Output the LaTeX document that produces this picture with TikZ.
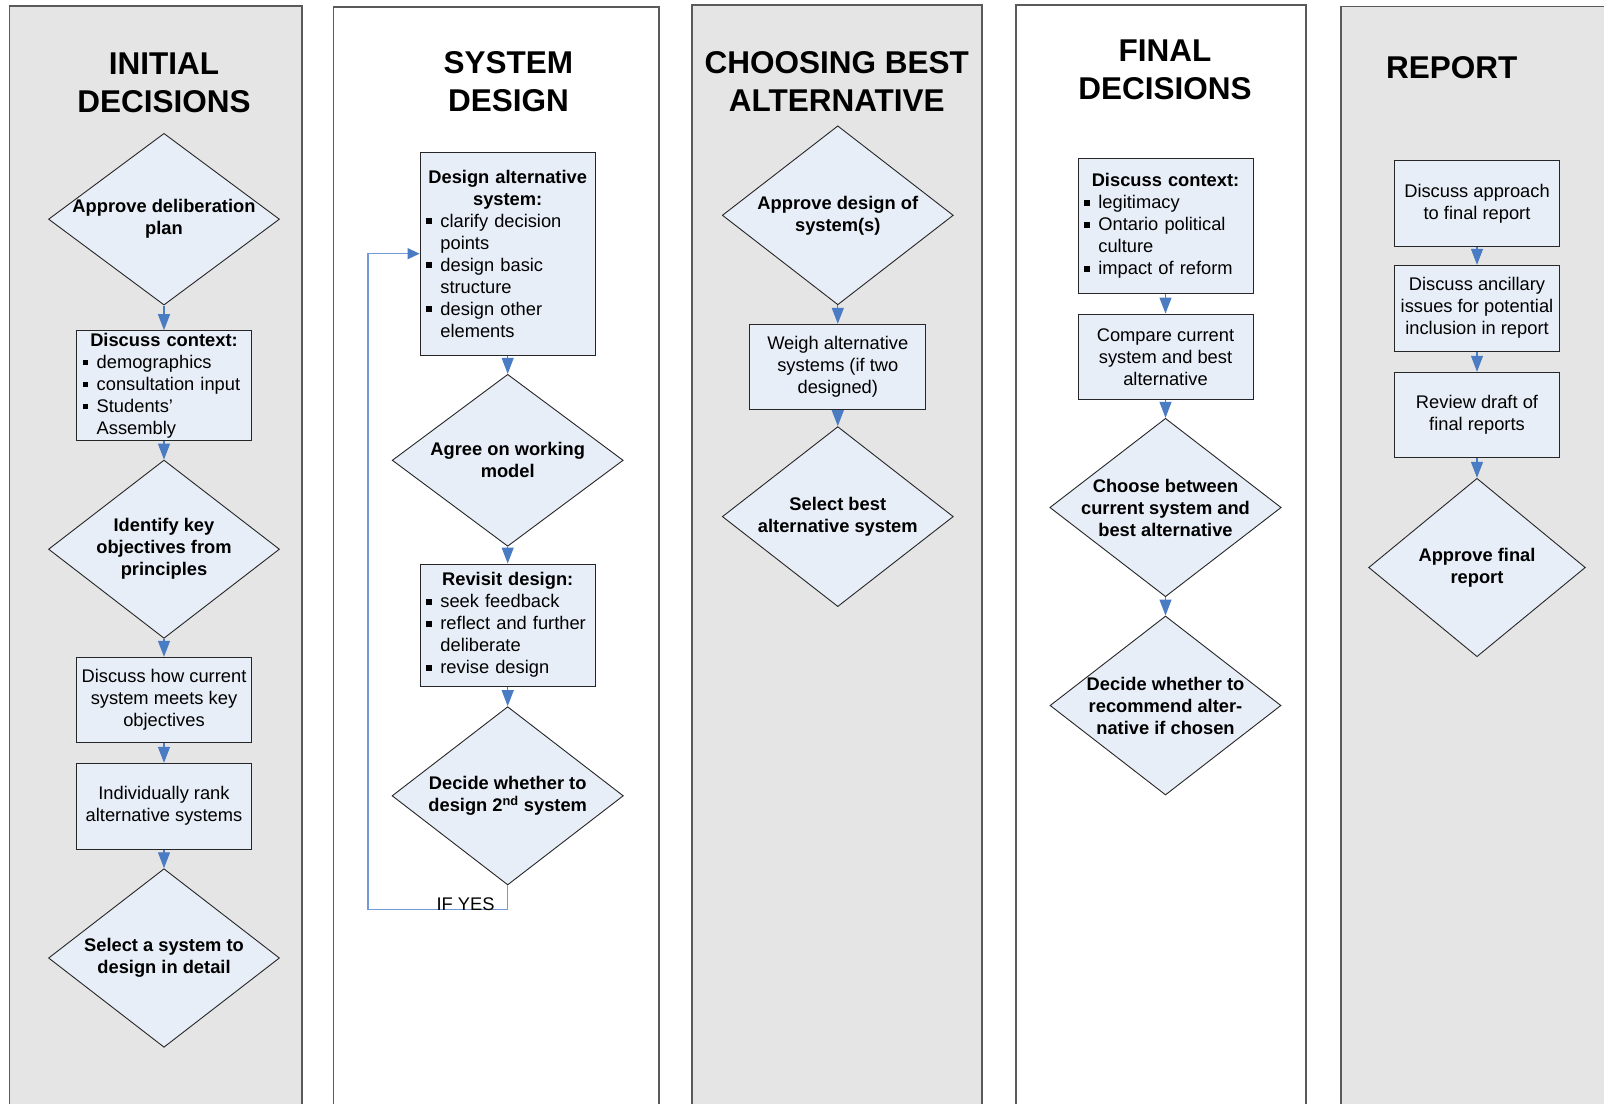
\documentclass[tikz,border=0pt]{standalone}
\usepackage{fontspec}
\setmainfont{Liberation Sans}
\usetikzlibrary{shapes.geometric,arrows.meta}
\definecolor{lanegray}{HTML}{E5E5E5}
\definecolor{laneline}{HTML}{5A5A5A}
\definecolor{nodefill}{HTML}{E8EEF7}
\definecolor{nodeline}{HTML}{262626}
\definecolor{arrowblue}{HTML}{4A7CC4}
\definecolor{loopblue}{HTML}{7399D6}
\newcommand\bul{\makebox[14pt][l]{\rule[3.2pt]{5.6pt}{5.6pt}}}
\newcommand\ind{\hspace*{14pt}}
\begin{document}
\begin{tikzpicture}[x=1pt,y=-1pt,
  lane/.style={draw=laneline,line width=1.4pt},
  title/.style={font=\fontsize{31.5}{37.7}\selectfont\bfseries,align=center,inner sep=0pt},
  dia/.style={diamond,draw=nodeline,fill=nodefill,line width=0.9pt,inner sep=0pt},
  dtxt/.style={font=\fontsize{18.3}{22}\selectfont\bfseries,align=center,inner sep=0pt},
  box/.style={rectangle,draw=nodeline,fill=nodefill,line width=1pt,inner sep=0pt,font=\fontsize{18.3}{22}\selectfont,align=center},
  lbox/.style={box,align=left,text width=#1},
  arr/.style={draw=arrowblue,line width=1.2pt,-{Triangle[length=16pt,width=12pt]}},
  backline/.style={draw=loopblue,line width=1.3pt,-{Triangle[length=12pt,width=11pt,color=arrowblue]}},
  lbl/.style={font=\fontsize{18.3}{22}\selectfont,inner sep=0pt,anchor=base},
]
\useasboundingbox (0,0) rectangle (1604,1104);
\fill[white] (0,0) rectangle (1604,1104);
% lanes
\fill[lanegray] (9.5,6) rectangle (302,1104);
\draw[lane] (9.5,1104) -- (9.5,6) -- (302,6) -- (302,1104);
\draw[lane] (333.7,1104) -- (333.7,7) -- (659,7) -- (659,1104);
\fill[lanegray] (692,5) rectangle (982,1104);
\draw[lane] (692,1104) -- (692,5) -- (982,5) -- (982,1104);
\draw[lane] (1016,1104) -- (1016,5) -- (1306,5) -- (1306,1104);
\fill[lanegray] (1341,6.7) rectangle (1604,1104);
\draw[lane] (1341,1104) -- (1341,6.7) -- (1610,6.7);

% column 1
\node[title] (t1) at (164,82.5) {INITIAL\\DECISIONS};
\node[dia,minimum width=231pt,minimum height=171.7pt] (d1) at (164,219.2) {};
\node[dtxt] (d1t) at (d1) {Approve deliberation\\plan};
\node[lbox=162.6pt,minimum width=175.4pt,minimum height=110pt] (b1) at (164,385.7)
  {{\centering\bfseries Discuss context:\par}\bul demographics\\\bul consultation input\\\bul Students’\\\ind Assembly};
\node[dia,minimum width=231pt,minimum height=178.3pt] (d2) at (164,549.2) {};
\node[dtxt] (d2t) at (d2) {Identify key\\objectives from\\principles};
\node[box,minimum width=175.4pt,minimum height=85.4pt] (b2) at (164,700) {Discuss how current\\system meets key\\objectives};
\node[box,minimum width=175.4pt,minimum height=85.7pt] (b3) at (164,806.2) {Individually rank\\alternative systems};
\node[dia,minimum width=231pt,minimum height=178.6pt] (d3) at (164,958) {};
\node[dtxt] (d3t) at (d3) {Select a system to\\design in detail};
\draw[arr] (d1) -- (b1);
\draw[arr] (b1) -- (d2);
\draw[arr] (d2) -- (b2);
\draw[arr] (b2) -- (b3);
\draw[arr] (b3) -- (d3);

% column 2
\node[title] (t2) at (508.4,81.5) {SYSTEM\\DESIGN};
\node[lbox=162.6pt,minimum width=175.3pt,minimum height=203.3pt] (b4) at (507.7,253.7)
  {{\centering\bfseries Design alternative\\system:\par}\bul clarify decision\\\ind points\\\bul design basic\\\ind structure\\\bul design other\\\ind elements};
\node[dia,minimum width=231pt,minimum height=172pt] (d4) at (507.7,460.3) {};
\node[dtxt] (d4t) at (d4) {Agree on working\\model};
\node[lbox=162.6pt,minimum width=175.4pt,minimum height=122pt] (b5) at (507.7,625)
  {{\centering\bfseries Revisit design:\par}\bul seek feedback\\\bul reflect and further\\\ind deliberate\\\bul revise design};
\node[dia,minimum width=231.3pt,minimum height=178.3pt] (d5) at (507.7,795.8) {};
\node[dtxt] (d5t) at (d5) {Decide whether to\\design 2\textsuperscript{nd} system};
\draw[arr] (b4) -- (d4);
\draw[arr] (d4) -- (b5);
\draw[arr] (b5) -- (d5);
\coordinate (lc) at (368,909.3);
\draw[backline] (d5.south) |- (lc) |- (b4.west);
\node[lbl] (ify) at (465.5,910.5) {IF YES};

% column 3
\node[title] (t3) at (836.8,81.5) {CHOOSING BEST\\ALTERNATIVE};
\node[dia,minimum width=231pt,minimum height=179pt] (d6) at (837.8,215.3) {};
\node[dtxt] (d6t) at (d6) {Approve design of\\system(s)};
\node[box,minimum width=176pt,minimum height=85pt] (b6) at (837.8,366.8) {Weigh alternative\\systems (if two\\designed)};
\node[dia,minimum width=231pt,minimum height=180pt] (d7) at (837.8,516.6) {};
\node[dtxt] (d7t) at (d7) {Select best\\alternative system};
\draw[arr] (d6) -- (b6);
\draw[arr] (b6) -- (d7);

% column 4
\node[title] (t4) at (1165,69.5) {FINAL\\DECISIONS};
\node[lbox=162.2pt,minimum width=175pt,minimum height=134.6pt] (b7) at (1165.5,226)
  {{\centering\bfseries Discuss context:\par}\bul legitimacy\\\bul Ontario political\\\ind culture\\\bul impact of reform};
\node[box,minimum width=175pt,minimum height=85.3pt] (b8) at (1165.5,356.7) {Compare current\\system and best\\alternative};
\node[dia,minimum width=231.4pt,minimum height=178.4pt] (d8) at (1165.5,507.5) {};
\node[dtxt] (d8t) at (d8) {Choose between\\current system and\\best alternative};
\node[dia,minimum width=231pt,minimum height=179pt] (d9) at (1165.5,705.5) {};
\node[dtxt] (d9t) at (d9) {Decide whether to\\recommend alter-\\native if chosen};
\draw[arr] (b7) -- (b8);
\draw[arr] (b8) -- (d8);
\draw[arr] (d8) -- (d9);

% column 5
\node[title] (t5) at (1451.7,67.7) {REPORT};
\node[box,minimum width=164.3pt,minimum height=85.7pt] (b9) at (1477,203.8) {Discuss approach\\to final report};
\node[box,minimum width=164.3pt,minimum height=85.7pt] (b10) at (1477,308.2) {Discuss ancillary\\issues for potential\\inclusion in report};
\node[box,minimum width=164.3pt,minimum height=85pt] (b11) at (1477,414.8) {Review draft of\\final reports};
\node[dia,minimum width=216.7pt,minimum height=178.4pt] (d10) at (1477,567.5) {};
\node[dtxt] (d10t) at (d10) {Approve final\\report};
\draw[arr] (b9) -- (b10);
\draw[arr] (b10) -- (b11);
\draw[arr] (b11) -- (d10);
\end{tikzpicture}
\end{document}
